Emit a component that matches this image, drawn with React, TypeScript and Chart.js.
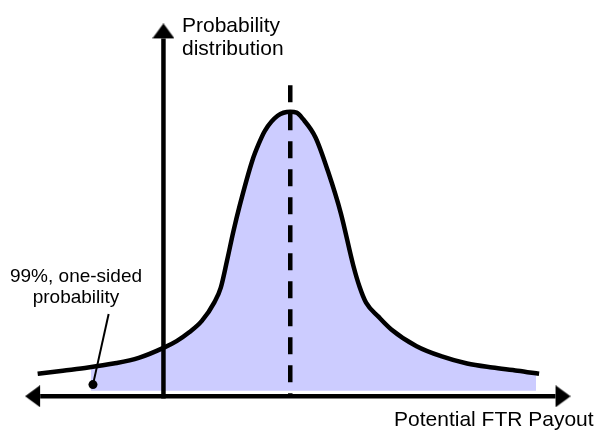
import React, { useEffect, useRef } from "react";
import { Chart, registerables } from "chart.js";

Chart.register(...registerables);

// Potential FTR payout (horizontal units) and probability density (peak = 1)
const payout = [-10, -9, -8, -7, -6, -5, -4.5, -4, -3.5, -3, -2.75, -2.5, -2.25, -2, -1.5, -1.25, -1, -0.5, 0, 0.25, 0.5, 1, 1.5, 2, 2.5, 2.75, 3, 3.5, 4, 5, 6, 7, 8, 9, 9.85];
const density = [0.079, 0.09, 0.101, 0.115, 0.135, 0.171, 0.194, 0.225, 0.265, 0.331, 0.382, 0.478, 0.58, 0.671, 0.829, 0.887, 0.934, 0.986, 1.0, 0.997, 0.975, 0.91, 0.789, 0.644, 0.458, 0.383, 0.329, 0.279, 0.235, 0.176, 0.14, 0.115, 0.101, 0.09, 0.079];

// shaded (99%, one-sided) region
const shadeFrom = [-7.9, 0.103];
const shadeTo = [9.73, 0.081];
const shadeFloor = 0.019;

// mean (dashed) line
const meanX = 0;
const meanTop = 1.093;

// axes
const hAxisX = [-9.9, 10.5];
const vAxisX = -5.02;
const vAxisY = [-0.008, 1.258];

// pointer from label to the tail
const pointerX = [-7.19, -7.81];
const pointerY = [0.289, 0.041];

// view window
const X_MIN = -11.154;
const X_MAX = 11.885;
const Y_MIN = -0.1098;
const Y_MAX = 1.3632;

const yLabel = ["Probability", "distribution"];
const xLabel = "Potential FTR Payout";
const tailLabel = ["99%, one-sided", "probability"];

function makeArrow(): HTMLCanvasElement {
  const L = 15;
  const hw = 11;
  const c = document.createElement("canvas");
  c.width = L * 2;
  c.height = hw * 2;
  const g = c.getContext("2d")!;
  g.fillStyle = "#000";
  g.beginPath();
  g.moveTo(L, 0);
  g.lineTo(L * 2, hw);
  g.lineTo(L, hw * 2);
  g.closePath();
  g.fill();
  return c;
}

export default function App() {
  const ref = useRef<HTMLCanvasElement | null>(null);

  useEffect(() => {
    if (!ref.current) return;
    const arrow = makeArrow();
    const curve = payout.map((x, i) => ({ x, y: density[i] }));
    const shade = [
      { x: shadeFrom[0], y: shadeFrom[1] },
      ...curve.filter((p) => p.x > shadeFrom[0] && p.x < shadeTo[0]),
      { x: shadeTo[0], y: shadeTo[1] },
    ];

    const textPlugin = {
      id: "labels",
      afterDatasetsDraw(chart: any) {
        const ctx = chart.ctx;
        ctx.save();
        ctx.fillStyle = "#000";
        ctx.textBaseline = "alphabetic";
        ctx.font = '21px "Liberation Sans", Arial, sans-serif';
        ctx.textAlign = "left";
        ctx.fillText(yLabel[0], 182, 32);
        ctx.fillText(yLabel[1], 182, 55);
        ctx.fillText(xLabel, 394, 426);
        ctx.font = '19px "Liberation Sans", Arial, sans-serif';
        ctx.textAlign = "center";
        ctx.fillText(tailLabel[0], 76, 282);
        ctx.fillText(tailLabel[1], 76, 303);
        ctx.restore();
      },
    };

    const chart = new Chart(ref.current, {
      type: "scatter",
      data: {
        datasets: [
          {
            data: shade,
            showLine: true,
            fill: { value: shadeFloor },
            backgroundColor: "#ccccff",
            borderColor: "rgba(0,0,0,0)",
            borderWidth: 0,
            pointRadius: 0,
            cubicInterpolationMode: "monotone",
            order: 10,
          },
          {
            data: hAxisX.map((x) => ({ x, y: 0 })),
            showLine: true,
            borderColor: "#000",
            borderWidth: 4.5,
            pointStyle: [arrow, arrow],
            pointRotation: [180, 0],
            pointRadius: [2, 2],
            order: 4,
          },
          {
            data: vAxisY.map((y) => ({ x: vAxisX, y })),
            showLine: true,
            borderColor: "#000",
            borderWidth: 4.5,
            pointStyle: [arrow, arrow],
            pointRotation: [0, -90],
            pointRadius: [0, 2],
            order: 4,
          },
          {
            data: curve,
            showLine: true,
            borderColor: "#000",
            borderWidth: 4.5,
            pointRadius: 0,
            cubicInterpolationMode: "monotone",
            borderJoinStyle: "round",
            order: 2,
          },
          {
            data: [
              { x: meanX, y: meanTop },
              { x: meanX, y: 0 },
            ],
            showLine: true,
            borderColor: "#000",
            borderWidth: 4.5,
            borderDash: [17, 11],
            pointRadius: 0,
            order: 1,
          },
          {
            data: pointerX.map((x, i) => ({ x, y: pointerY[i] })),
            showLine: true,
            borderColor: "#000",
            borderWidth: 2,
            pointRadius: [0, 4.5],
            pointBackgroundColor: "#000",
            pointBorderColor: "#000",
            pointBorderWidth: 0,
            order: 0,
          },
        ],
      },
      options: {
        animation: false,
        responsive: false,
        events: [],
        layout: { padding: 0 },
        scales: {
          x: { type: "linear", min: X_MIN, max: X_MAX, display: false },
          y: { type: "linear", min: Y_MIN, max: Y_MAX, display: false },
        },
        plugins: {
          legend: { display: false },
          tooltip: { enabled: false },
        },
      },
      plugins: [textPlugin],
    } as any);

    return () => chart.destroy();
  }, []);

  return (
    <div style={{ position: "absolute", left: 0, top: 0, width: 599, height: 436, background: "#fff" }}>
      <canvas ref={ref} width={599} height={436} />
    </div>
  );
}
